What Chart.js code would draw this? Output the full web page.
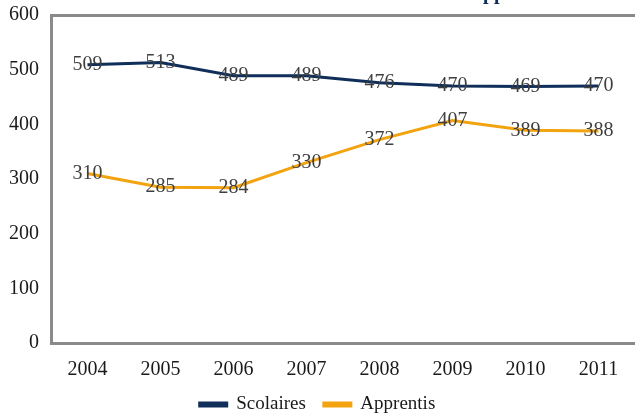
<!DOCTYPE html>
<html>
<head>
<meta charset="utf-8">
<script src="https://cdn.jsdelivr.net/npm/chart.js@4/dist/chart.umd.min.js"></script>
<style>
  html, body { margin: 0; padding: 0; background: #fff; }
  #wrap { width: 635px; height: 413px; position: relative; }
</style>
</head>
<body>
<div id="wrap"><canvas id="myChart"></canvas></div>
<script>
const years = ['2004', '2005', '2006', '2007', '2008', '2009', '2010', '2011'];
const scolaires = [509, 513, 489, 489, 476, 470, 469, 470];
const apprentis = [310, 285, 284, 330, 372, 407, 389, 388];
const yTicks = [0, 100, 200, 300, 400, 500, 600];

const SERIF = '"Liberation Serif", "DejaVu Serif", serif';
const NAVY = '#0f2e5a';
const ORANGE = '#f2a30f';
const AXIS = '#8a8a8a';

// titre coupé en haut de l'image : seules les jambes des "pp" dépassent
const clippedTitle = {
    id: 'clippedTitle',
    afterDraw(chart) {
        const ctx = chart.ctx;
        ctx.save();
        ctx.font = 'bold 20px ' + SERIF;
        ctx.fillStyle = NAVY;
        ctx.textAlign = 'left';
        ctx.textBaseline = 'alphabetic';
        const prefix = 'Élèves scolaires et a';
        const x = 483 - ctx.measureText(prefix).width;
        ctx.fillText('Élèves scolaires et apprentis', x, -1);
        ctx.restore();
    }
};

// étiquettes de valeurs centrées sur chaque point
const valueLabels = {
    id: 'valueLabels',
    afterDatasetsDraw(chart) {
        const ctx = chart.ctx;
        ctx.save();
        ctx.font = '20px ' + SERIF;
        ctx.fillStyle = '#3f3f3f';
        ctx.textAlign = 'center';
        ctx.textBaseline = 'middle';
        chart.data.datasets.forEach((ds, i) => {
            chart.getDatasetMeta(i).data.forEach((pt, j) => {
                ctx.fillText(String(ds.data[j]), pt.x, pt.y);
            });
        });
        ctx.restore();
    }
};

// place la boîte de légende (hauteur bridée par maxHeight pour la mise en page)
const legendShift = {
    id: 'legendShift',
    afterLayout(chart) {
        if (chart.legend) {
            chart.legend.top = 377;
            chart.legend.bottom = 413;
        }
    }
};

const ctx = document.getElementById('myChart').getContext('2d');
new Chart(ctx, {
    type: 'line',
    data: {
        labels: years,
        datasets: [{
            label: 'Scolaires',
            data: scolaires,
            borderColor: NAVY,
            backgroundColor: NAVY,
            borderWidth: 3,
            pointRadius: 0,
            tension: 0
        }, {
            label: 'Apprentis',
            data: apprentis,
            borderColor: ORANGE,
            backgroundColor: ORANGE,
            borderWidth: 3,
            pointRadius: 0,
            tension: 0
        }]
    },
    options: {
        responsive: true,
        maintainAspectRatio: false,
        animation: false,
        layout: { padding: { top: 15, right: 0, left: 0, bottom: 0 } },
        plugins: {
            legend: {
                position: 'bottom',
                maxHeight: 30,
                labels: {
                    font: { family: SERIF, size: 19 },
                    color: '#1a1a1a',
                    boxWidth: 27,
                    boxHeight: 3,
                    padding: 18
                }
            },
            tooltip: { enabled: false }
        },
        scales: {
            x: {
                offset: true,
                afterFit(scale) { scale.height = 40; },
                grid: { display: false },
                border: { display: true, color: AXIS, width: 3 },
                ticks: {
                    font: { family: SERIF, size: 20 },
                    color: '#1a1a1a',
                    padding: 7
                }
            },
            y: {
                min: 0,
                max: 600,
                afterBuildTicks(scale) {
                    scale.ticks = yTicks.map(v => ({ value: v }));
                },
                afterFit(scale) {
                    scale.width = 51;
                    scale.paddingTop = 0;
                    scale.paddingBottom = 0;
                },
                grid: {
                    drawTicks: false,
                    color: c => c.tick && c.tick.value === 600 ? AXIS : 'rgba(0,0,0,0)',
                    lineWidth: 3
                },
                border: { display: true, color: AXIS, width: 3 },
                ticks: {
                    font: { family: SERIF, size: 20 },
                    color: '#1a1a1a',
                    padding: 12
                }
            }
        }
    },
    plugins: [valueLabels, clippedTitle, legendShift]
});
</script>
</body>
</html>
